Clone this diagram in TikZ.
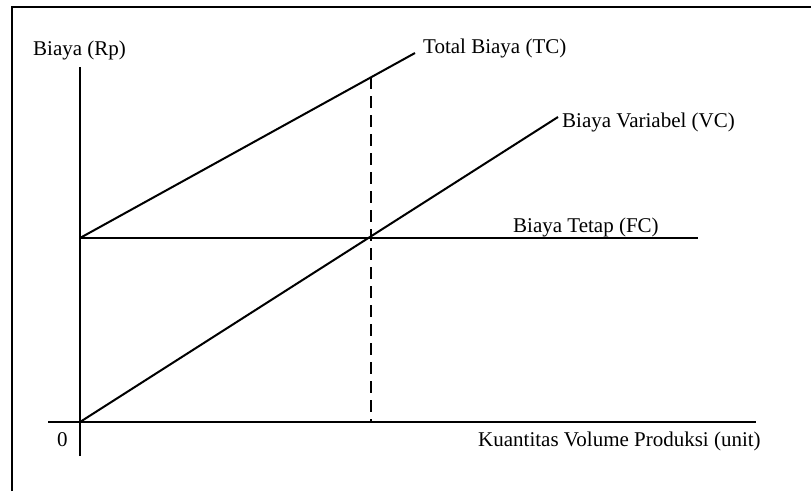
\documentclass[tikz,border=0pt]{standalone}
\usepackage{fontspec}
\setmainfont{Liberation Serif}
\begin{document}
\begin{tikzpicture}[x=1pt,y=-1pt,
  lbl/.style={anchor=base west,inner sep=0pt,font=\fontsize{21}{24}\selectfont},
  axisline/.style={line width=2pt},
  curve/.style={line width=2pt},
  guide/.style={line width=2.6pt,dash pattern=on 12pt off 7pt}]
\useasboundingbox (0,0) rectangle (811,491);
% frame
\draw[line width=2.2pt] (12,491) -- (12,7) -- (811,7);
% coordinates
\coordinate (O) at (80,422);
\coordinate (ytop) at (80,67);
\coordinate (ybot) at (80,456);
\coordinate (xleft) at (48,422);
\coordinate (xright) at (756,422);
\coordinate (FCl) at (80,238);
\coordinate (FCr) at (698,238);
\coordinate (TCe) at (415,53);
\coordinate (VCe) at (558,117);
\coordinate (Dtop) at (371,77);
\coordinate (Dbot) at (371,422);
% axes
\draw[axisline] (ybot) -- (ytop);
\draw[axisline] (xleft) -- (xright);
% lines
\draw[curve] (FCl) -- (FCr);
\draw[curve] (FCl) -- (TCe);
\draw[curve] (O) -- (VCe);
\draw[guide] (Dtop) -- (Dbot);
% labels
\node[lbl] (ylab) at (33,55) {Biaya (Rp)};
\node[lbl] (tclab) at (423,53) {Total Biaya (TC)};
\node[lbl] (vclab) at (562,127) {Biaya Variabel (VC)};
\node[lbl] (fclab) at (513,232) {Biaya Tetap (FC)};
\node[lbl] (zero) at (57,446) {0};
\node[lbl] (xlab) at (478,446) {Kuantitas Volume Produksi (unit)};
\end{tikzpicture}
\end{document}
